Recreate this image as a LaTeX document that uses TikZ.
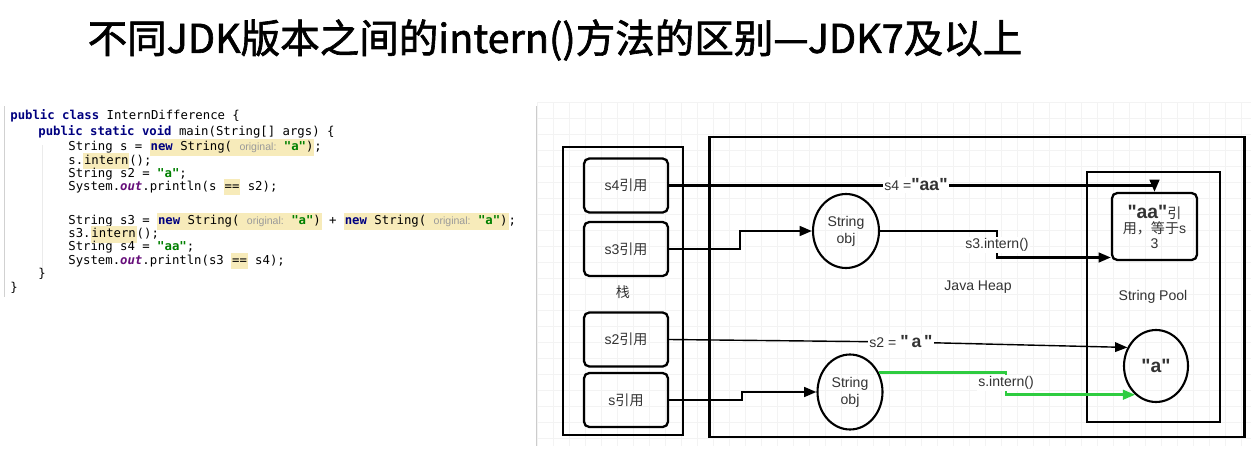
\documentclass[tikz,border=0pt]{standalone}
\usepackage{fontspec}
\usepackage{xcolor}
\usetikzlibrary{arrows.meta,shapes.geometric}
\setmainfont{Liberation Sans}[Ligatures=TeXOff]
\setmonofont{DejaVu Sans Mono}
\newfontfamily\cjk{Noto Sans CJK SC}
\newfontfamily\cjktitle{Noto Sans CJK SC}[FakeBold=1.6]
\newfontfamily\hintfont{Liberation Sans}
\definecolor{kw}{HTML}{000080}
\definecolor{strg}{HTML}{008000}
\definecolor{outc}{HTML}{660E7A}
\definecolor{hl}{HTML}{F7EBBA}
\definecolor{hintc}{HTML}{9A9A9A}
\definecolor{ink}{HTML}{333333}
\definecolor{callc}{HTML}{2ECC40}
\definecolor{gridc}{HTML}{F3F3F3}
\newcommand{\jkw}[1]{\textcolor{kw}{\bfseries #1}}
\newcommand{\jstr}[1]{\textcolor{strg}{\bfseries #1}}
\newcommand{\jout}[1]{\textcolor{outc}{\bfseries\itshape #1}}
\newcommand{\jhl}[1]{{\setlength{\fboxsep}{0.5pt}\colorbox{hl}{\strut #1}}}
\newcommand{\jhint}[1]{{\hintfont\fontsize{6}{7}\selectfont\textcolor{hintc}{#1}}}
\tikzset{
  frame/.style={draw=black, line width=1.5pt},
  ref/.style={draw=black, line width=1.3pt, rounded corners=3pt, minimum width=1.68cm,
    minimum height=1.08cm, text=ink, font=\fontsize{8}{9.6}\selectfont},
  obj/.style={ellipse, draw=black, line width=1.2pt, inner sep=0pt, align=center, text=ink,
    font=\fontsize{8}{9.6}\selectfont},
  wire/.style={draw=black, line width=1.4pt, -{Triangle[length=7pt,width=5.5pt]}},
  lab/.style={text=ink, font=\fontsize{8}{9.6}\selectfont},
  tag/.style={lab, fill=white, inner sep=1pt},
  code/.style={anchor=base west, inner sep=0pt, font=\ttfamily\fontsize{7}{8.5}\selectfont},
  gridline/.style={draw=gridc, line width=0.4pt},
}
\begin{document}
\begin{tikzpicture}[x=0.02cm, y=-0.02cm]
  \useasboundingbox[fill=white] (0,0) rectangle (1251,463);
  % title
  \node[font=\cjktitle\fontsize{22.5}{27}\selectfont] (title) at (555,40)
    {不同JDK版本之间的intern()方法的区别—JDK7及以上};

  % code
  \draw[black!18] (4,106) -- (4,297);
  \draw[black!8] (42,145) -- (42,273);
  \node[code] (c1) at (10,119.5) {\jkw{public class} InternDifference \{};
  \node[code] (c2) at (38,135.5) {\jkw{public static void} main(String[] args) \{};
  \node[code] (c3) at (68,150.5) {String s = \jhl{\jkw{new} String( \jhint{original:} \jstr{"a"})};};
  \node[code] (c4) at (68,164) {s.\jhl{intern}();};
  \node[code] (c5) at (68,177) {String s2 = \jstr{"a"};};
  \node[code] (c6) at (68,190) {System.\jout{out}.println(s \jhl{==} s2);};
  \node[code] (c7) at (68,224.5) {String s3 = \jhl{\jkw{new} String( \jhint{original:} \jstr{"a"})} + \jhl{\jkw{new} String( \jhint{original:} \jstr{"a"})};};
  \node[code] (c8) at (68,237.5) {s3.\jhl{intern}();};
  \node[code] (c9) at (68,250.5) {String s4 = \jstr{"aa"};};
  \node[code] (c10) at (68,264) {System.\jout{out}.println(s3 \jhl{==} s4);};
  \node[code] (c11) at (38,277.5) {\}};
  \node[code] (c12) at (10,291) {\}};

  % canvas grid
  \foreach \gx in {537,553,...,1251}
    \draw[gridline] (\gx,102) -- (\gx,446);
  \foreach \gy in {102,118,...,446}
    \draw[gridline] (537,\gy) -- (1251,\gy);
  \draw[black!20] (536,106) -- (536,446);

  % stack
  \draw[frame, line width=1.3pt] (563,147) rectangle (683,435);
  \node[lab] (stack) at (623,292) {\cjk 栈};
  \node[ref] (s4) at (626,185.5) {s4{\cjk 引用}};
  \node[ref] (s3) at (626,249) {s3{\cjk 引用}};
  \node[ref] (s2) at (626,339.5) {s2{\cjk 引用}};
  \node[ref] (s) at (626,400) {s{\cjk 引用}};

  % heap and pool
  \draw[frame, line width=1.7pt] (709,137) rectangle (1244,437);
  \draw[frame] (1087,172) rectangle (1220,422);
  \node[lab] (heap) at (978,287) {Java Heap};
  \node[lab] (pool) at (1153,297) {String Pool};
  \node[ref, minimum width=1.7cm, minimum height=1.34cm, align=center, inner sep=1pt,
    font=\fontsize{8}{8.5}\selectfont] (aa) at (1154.5,226.5)
    {{\fontsize{11}{11}\selectfont\bfseries "aa"}{\cjk 引}\\{\cjk 用，等于}s\\3};
  \node[obj, minimum width=1.28cm, minimum height=1.44cm,
    font=\fontsize{11}{11}\selectfont\bfseries] (apool) at (1156,366) {"a"};
  \node[obj, minimum width=1.32cm, minimum height=1.48cm] (s3obj) at (846,231) {String\\obj};
  \node[obj, minimum width=1.3cm, minimum height=1.5cm] (sobj) at (850,392) {String\\obj};

  % references
  \coordinate (s3step) at (740,240);
  \coordinate (sstep) at (742,396);
  \coordinate (s4mid) at (916,185);
  \coordinate (s3bend) at (997,245);
  \coordinate (s2mid) at (901,342);
  \coordinate (sbend) at (1006,383);
  \draw[wire] (s4.east) -| (aa.north);
  \draw[wire] (s3.east) -| (s3step) |- (s3obj.west);
  \draw[wire] (s3obj.east) -| (s3bend) |- ([yshift=-0.62cm]aa.west);
  \draw[wire, line width=0.8pt] (s2.east) -- (s2mid) -- (apool.147);
  \draw[wire] (s.east) -| (sstep) |- (sobj.west);
  \draw[wire, draw=callc, -{Triangle[length=7pt,width=5.5pt,fill=callc]}]
    (sobj.34) -| (sbend) |- (apool.234);
  \node[tag] (s4lab) at (s4mid) {s4 ={\fontsize{10}{10}\selectfont\bfseries "aa"}};
  \node[tag] (s3lab) at (s3bend) {s3.intern()};
  \node[tag] (s2lab) at (s2mid) {s2 = {\fontsize{10}{10}\selectfont\bfseries "\,a\,"}};
  \node[tag] (slab) at (sbend) {s.intern()};
\end{tikzpicture}
\end{document}
